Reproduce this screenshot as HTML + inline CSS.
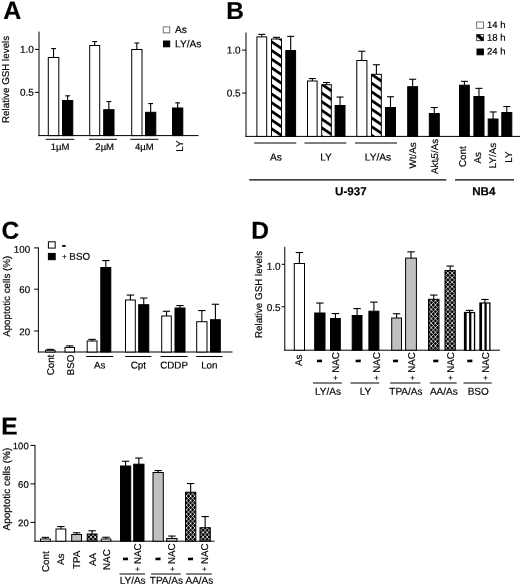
<!DOCTYPE html>
<html lang="en">
<head>
<meta charset="utf-8">
<title>Figure</title>
<style>
html,body{margin:0;padding:0;background:#fff;}
body{width:520px;height:586px;overflow:hidden;}
svg{display:block;}
svg text{font-family:"Liberation Sans",Arial,Helvetica,sans-serif;fill:#000;stroke:#000;stroke-width:0.18px;text-rendering:geometricPrecision;}
</style>
</head>
<body>
<svg width="520" height="586" viewBox="0 0 520 586">
<defs>
<pattern id="hatch" patternUnits="userSpaceOnUse" width="20" height="7.21" patternTransform="translate(271 39.7) rotate(34)">
<rect x="0" y="0" width="20" height="7.21" fill="#fff"/>
<rect x="0" y="0" width="20" height="2.8" fill="#000"/>
</pattern>
<pattern id="cross" patternUnits="userSpaceOnUse" x="3.85" y="0.10" width="4.15" height="4.55">
<rect x="0" y="0" width="4.15" height="4.55" fill="#000"/>
<path d="M0 0L4.15 4.55M0 4.55L4.15 0" stroke="#fff" stroke-width="0.75" fill="none"/>
</pattern>
</defs>
<rect x="0" y="0" width="520" height="586" fill="#fff"/>

<g id="panelA">
<text x="3.20" y="19.10" font-size="25" text-anchor="start" font-weight="bold" transform="rotate(0.05 3.20 19.10)">A</text>
<text x="9.50" y="79.40" font-size="9.8" text-anchor="middle" font-weight="normal" transform="rotate(-90 9.50 79.40)">Relative GSH levels</text>
<line x1="39.00" y1="31.60" x2="39.00" y2="136.10" stroke="#000" stroke-width="1.0"/>
<line x1="38.50" y1="135.60" x2="198.50" y2="135.60" stroke="#000" stroke-width="1.0"/>
<line x1="34.90" y1="49.40" x2="39.00" y2="49.40" stroke="#000" stroke-width="1.0"/>
<text x="33.90" y="52.80" font-size="10.0" text-anchor="end" font-weight="normal" transform="rotate(0.05 33.90 52.80)">1.0</text>
<line x1="34.90" y1="92.40" x2="39.00" y2="92.40" stroke="#000" stroke-width="1.0"/>
<text x="33.90" y="95.80" font-size="10.0" text-anchor="end" font-weight="normal" transform="rotate(0.05 33.90 95.80)">0.5</text>
<line x1="53.55" y1="48.55" x2="53.55" y2="58.00" stroke="#000" stroke-width="1.1"/>
<line x1="51.15" y1="48.55" x2="55.95" y2="48.55" stroke="#000" stroke-width="1.1"/>
<rect x="48.30" y="57.50" width="10.50" height="78.10" fill="#fff" stroke="#000" stroke-width="1.0"/>
<line x1="67.65" y1="95.85" x2="67.65" y2="101.00" stroke="#000" stroke-width="1.1"/>
<line x1="65.25" y1="95.85" x2="70.05" y2="95.85" stroke="#000" stroke-width="1.1"/>
<rect x="62.50" y="100.50" width="10.30" height="35.10" fill="#000" stroke="#000" stroke-width="1.0"/>
<line x1="94.70" y1="41.55" x2="94.70" y2="46.00" stroke="#000" stroke-width="1.1"/>
<line x1="92.30" y1="41.55" x2="97.10" y2="41.55" stroke="#000" stroke-width="1.1"/>
<rect x="89.70" y="45.50" width="10.00" height="90.10" fill="#fff" stroke="#000" stroke-width="1.0"/>
<line x1="108.85" y1="101.55" x2="108.85" y2="110.20" stroke="#000" stroke-width="1.1"/>
<line x1="106.45" y1="101.55" x2="111.25" y2="101.55" stroke="#000" stroke-width="1.1"/>
<rect x="103.70" y="109.70" width="10.30" height="25.90" fill="#000" stroke="#000" stroke-width="1.0"/>
<line x1="136.85" y1="43.05" x2="136.85" y2="50.00" stroke="#000" stroke-width="1.1"/>
<line x1="134.45" y1="43.05" x2="139.25" y2="43.05" stroke="#000" stroke-width="1.1"/>
<rect x="131.70" y="49.50" width="10.30" height="86.10" fill="#fff" stroke="#000" stroke-width="1.0"/>
<line x1="150.65" y1="103.55" x2="150.65" y2="112.80" stroke="#000" stroke-width="1.1"/>
<line x1="148.25" y1="103.55" x2="153.05" y2="103.55" stroke="#000" stroke-width="1.1"/>
<rect x="145.50" y="112.30" width="10.30" height="23.30" fill="#000" stroke="#000" stroke-width="1.0"/>
<line x1="177.65" y1="102.85" x2="177.65" y2="108.50" stroke="#000" stroke-width="1.1"/>
<line x1="175.25" y1="102.85" x2="180.05" y2="102.85" stroke="#000" stroke-width="1.1"/>
<rect x="172.50" y="108.00" width="10.30" height="27.60" fill="#000" stroke="#000" stroke-width="1.0"/>
<line x1="45.70" y1="139.30" x2="74.30" y2="139.30" stroke="#000" stroke-width="1.0"/>
<text x="60.00" y="150.00" font-size="9.5" text-anchor="middle" font-weight="normal" transform="rotate(0.05 60.00 150.00)">1µM</text>
<line x1="89.00" y1="139.30" x2="117.00" y2="139.30" stroke="#000" stroke-width="1.0"/>
<text x="104.70" y="150.00" font-size="9.5" text-anchor="middle" font-weight="normal" transform="rotate(0.05 104.70 150.00)">2µM</text>
<line x1="130.30" y1="139.30" x2="158.30" y2="139.30" stroke="#000" stroke-width="1.0"/>
<text x="144.30" y="150.00" font-size="9.5" text-anchor="middle" font-weight="normal" transform="rotate(0.05 144.30 150.00)">4µM</text>
<text x="182.93" y="146.20" font-size="9.8" text-anchor="middle" font-weight="normal" transform="rotate(-90 182.93 146.20)">LY</text>
<rect x="163.25" y="26.85" width="6.50" height="6.00" fill="#fff" stroke="#666" stroke-width="0.9"/>
<text x="175.00" y="33.00" font-size="10.2" text-anchor="start" font-weight="normal" transform="rotate(0.05 175.00 33.00)">As</text>
<rect x="163.50" y="41.00" width="6.20" height="5.80" fill="#000" stroke="#000" stroke-width="1.0"/>
<text x="175.00" y="47.30" font-size="10.2" text-anchor="start" font-weight="normal" transform="rotate(0.05 175.00 47.30)">LY/As</text>
</g>
<g id="panelB">
<text x="226.20" y="19.00" font-size="24.5" text-anchor="start" font-weight="bold" transform="rotate(0.05 226.20 19.00)">B</text>
<line x1="246.00" y1="32.50" x2="246.00" y2="136.90" stroke="#000" stroke-width="1.0"/>
<line x1="245.50" y1="136.40" x2="520.00" y2="136.40" stroke="#000" stroke-width="1.0"/>
<line x1="242.10" y1="50.10" x2="246.00" y2="50.10" stroke="#000" stroke-width="1.0"/>
<text x="240.70" y="53.50" font-size="10.0" text-anchor="end" font-weight="normal" transform="rotate(0.05 240.70 53.50)">1.0</text>
<line x1="242.10" y1="93.00" x2="246.00" y2="93.00" stroke="#000" stroke-width="1.0"/>
<text x="240.70" y="96.40" font-size="10.0" text-anchor="end" font-weight="normal" transform="rotate(0.05 240.70 96.40)">0.5</text>
<line x1="261.80" y1="34.35" x2="261.80" y2="37.40" stroke="#000" stroke-width="1.1"/>
<line x1="258.30" y1="34.35" x2="265.30" y2="34.35" stroke="#000" stroke-width="1.1"/>
<rect x="256.90" y="36.90" width="9.80" height="99.50" fill="#fff" stroke="#000" stroke-width="1.0"/>
<line x1="276.50" y1="37.35" x2="276.50" y2="39.50" stroke="#000" stroke-width="1.1"/>
<line x1="273.00" y1="37.35" x2="280.00" y2="37.35" stroke="#000" stroke-width="1.1"/>
<rect x="271.50" y="39.00" width="10.00" height="97.40" fill="url(#hatch)" stroke="#000" stroke-width="1.0"/>
<line x1="290.70" y1="36.35" x2="290.70" y2="51.00" stroke="#000" stroke-width="1.1"/>
<line x1="287.20" y1="36.35" x2="294.20" y2="36.35" stroke="#000" stroke-width="1.1"/>
<rect x="285.80" y="50.50" width="9.80" height="85.90" fill="#000" stroke="#000" stroke-width="1.0"/>
<line x1="312.30" y1="78.55" x2="312.30" y2="81.50" stroke="#000" stroke-width="1.1"/>
<line x1="308.80" y1="78.55" x2="315.80" y2="78.55" stroke="#000" stroke-width="1.1"/>
<rect x="307.50" y="81.00" width="9.60" height="55.40" fill="#fff" stroke="#000" stroke-width="1.0"/>
<line x1="326.50" y1="82.55" x2="326.50" y2="85.20" stroke="#000" stroke-width="1.1"/>
<line x1="323.00" y1="82.55" x2="330.00" y2="82.55" stroke="#000" stroke-width="1.1"/>
<rect x="321.70" y="84.70" width="9.60" height="51.70" fill="url(#hatch)" stroke="#000" stroke-width="1.0"/>
<line x1="340.05" y1="97.05" x2="340.05" y2="106.00" stroke="#000" stroke-width="1.1"/>
<line x1="336.55" y1="97.05" x2="343.55" y2="97.05" stroke="#000" stroke-width="1.1"/>
<rect x="335.10" y="105.50" width="9.90" height="30.90" fill="#000" stroke="#000" stroke-width="1.0"/>
<line x1="361.85" y1="51.25" x2="361.85" y2="61.00" stroke="#000" stroke-width="1.1"/>
<line x1="358.35" y1="51.25" x2="365.35" y2="51.25" stroke="#000" stroke-width="1.1"/>
<rect x="356.80" y="60.50" width="10.10" height="75.90" fill="#fff" stroke="#000" stroke-width="1.0"/>
<line x1="376.40" y1="64.75" x2="376.40" y2="74.80" stroke="#000" stroke-width="1.1"/>
<line x1="372.90" y1="64.75" x2="379.90" y2="64.75" stroke="#000" stroke-width="1.1"/>
<rect x="371.50" y="74.30" width="9.80" height="62.10" fill="url(#hatch)" stroke="#000" stroke-width="1.0"/>
<line x1="390.50" y1="96.75" x2="390.50" y2="108.00" stroke="#000" stroke-width="1.1"/>
<line x1="387.00" y1="96.75" x2="394.00" y2="96.75" stroke="#000" stroke-width="1.1"/>
<rect x="385.50" y="107.50" width="10.00" height="28.90" fill="#000" stroke="#000" stroke-width="1.0"/>
<line x1="412.65" y1="79.25" x2="412.65" y2="87.20" stroke="#000" stroke-width="1.1"/>
<line x1="409.15" y1="79.25" x2="416.15" y2="79.25" stroke="#000" stroke-width="1.1"/>
<rect x="407.70" y="86.70" width="9.90" height="49.70" fill="#000" stroke="#000" stroke-width="1.0"/>
<line x1="434.30" y1="107.55" x2="434.30" y2="114.00" stroke="#000" stroke-width="1.1"/>
<line x1="430.80" y1="107.55" x2="437.80" y2="107.55" stroke="#000" stroke-width="1.1"/>
<rect x="429.30" y="113.50" width="10.00" height="22.90" fill="#000" stroke="#000" stroke-width="1.0"/>
<line x1="464.40" y1="81.35" x2="464.40" y2="85.70" stroke="#000" stroke-width="1.1"/>
<line x1="460.90" y1="81.35" x2="467.90" y2="81.35" stroke="#000" stroke-width="1.1"/>
<rect x="459.50" y="85.20" width="9.80" height="51.20" fill="#000" stroke="#000" stroke-width="1.0"/>
<line x1="478.95" y1="88.35" x2="478.95" y2="97.00" stroke="#000" stroke-width="1.1"/>
<line x1="475.45" y1="88.35" x2="482.45" y2="88.35" stroke="#000" stroke-width="1.1"/>
<rect x="473.90" y="96.50" width="10.10" height="39.90" fill="#000" stroke="#000" stroke-width="1.0"/>
<line x1="493.10" y1="111.95" x2="493.10" y2="119.50" stroke="#000" stroke-width="1.1"/>
<line x1="489.60" y1="111.95" x2="496.60" y2="111.95" stroke="#000" stroke-width="1.1"/>
<rect x="488.20" y="119.00" width="9.80" height="17.40" fill="#000" stroke="#000" stroke-width="1.0"/>
<line x1="506.80" y1="106.55" x2="506.80" y2="113.00" stroke="#000" stroke-width="1.1"/>
<line x1="503.30" y1="106.55" x2="510.30" y2="106.55" stroke="#000" stroke-width="1.1"/>
<rect x="501.80" y="112.50" width="10.00" height="23.90" fill="#000" stroke="#000" stroke-width="1.0"/>
<line x1="254.20" y1="143.00" x2="296.30" y2="143.00" stroke="#000" stroke-width="1.2"/>
<text x="275.85" y="160.40" font-size="10.2" text-anchor="middle" font-weight="normal" transform="rotate(0.05 275.85 160.40)">As</text>
<line x1="304.50" y1="143.00" x2="346.30" y2="143.00" stroke="#000" stroke-width="1.2"/>
<text x="326.00" y="160.40" font-size="10.2" text-anchor="middle" font-weight="normal" transform="rotate(0.05 326.00 160.40)">LY</text>
<line x1="355.00" y1="143.00" x2="397.00" y2="143.00" stroke="#000" stroke-width="1.2"/>
<text x="378.00" y="160.40" font-size="10.2" text-anchor="middle" font-weight="normal" transform="rotate(0.05 378.00 160.40)">LY/As</text>
<text x="415.53" y="155.40" font-size="9.8" text-anchor="middle" font-weight="normal" transform="rotate(-90 415.53 155.40)">Wt/As</text>
<text x="437.73" y="156.40" font-size="9.8" text-anchor="middle" font-weight="normal" transform="rotate(-90 437.73 156.40)">Akt<tspan font-size="6" dy="1.5">i</tspan><tspan dy="-1.5">5/As</tspan></text>
<text x="466.33" y="156.60" font-size="9.8" text-anchor="middle" font-weight="normal" transform="rotate(-90 466.33 156.60)">Cont</text>
<text x="481.33" y="157.80" font-size="9.8" text-anchor="middle" font-weight="normal" transform="rotate(-90 481.33 157.80)">As</text>
<text x="495.53" y="155.50" font-size="9.8" text-anchor="middle" font-weight="normal" transform="rotate(-90 495.53 155.50)">LY/As</text>
<text x="512.13" y="157.20" font-size="9.8" text-anchor="middle" font-weight="normal" transform="rotate(-90 512.13 157.20)">LY</text>
<line x1="249.20" y1="179.80" x2="446.40" y2="179.80" stroke="#000" stroke-width="1.2"/>
<line x1="455.00" y1="179.80" x2="514.00" y2="179.80" stroke="#000" stroke-width="1.2"/>
<text x="350.90" y="195.30" font-size="11.6" text-anchor="middle" font-weight="bold" transform="rotate(0.05 350.90 195.30)">U-937</text>
<text x="483.80" y="195.30" font-size="11.6" text-anchor="middle" font-weight="bold" transform="rotate(0.05 483.80 195.30)">NB4</text>
<rect x="476.65" y="21.95" width="6.80" height="6.30" fill="#fff" stroke="#666" stroke-width="0.9"/>
<text x="487.00" y="28.00" font-size="9.5" text-anchor="start" font-weight="normal" transform="rotate(0.05 487.00 28.00)">14 h</text>
<rect x="476.65" y="34.45" width="6.80" height="6.20" fill="#fff" stroke="#333" stroke-width="0.9"/>
<path d="M476.6 34.4 L479.6 34.4 L483.5 38.0 L483.5 40.7 L481.3 40.7 L476.6 36.4 Z" fill="#000"/>
<text x="487.00" y="40.80" font-size="9.5" text-anchor="start" font-weight="normal" transform="rotate(0.05 487.00 40.80)">18 h</text>
<rect x="477.00" y="49.00" width="6.40" height="5.80" fill="#000" stroke="#000" stroke-width="1.0"/>
<text x="487.00" y="54.50" font-size="9.5" text-anchor="start" font-weight="normal" transform="rotate(0.05 487.00 54.50)">24 h</text>
</g>
<g id="panelC">
<text x="1.50" y="238.70" font-size="24.5" text-anchor="start" font-weight="bold" transform="rotate(0.05 1.50 238.70)">C</text>
<text x="9.70" y="296.30" font-size="9.8" text-anchor="middle" font-weight="normal" transform="rotate(-90 9.70 296.30)">Apoptotic cells (%)</text>
<line x1="38.40" y1="247.40" x2="38.40" y2="352.50" stroke="#000" stroke-width="1.0"/>
<line x1="37.90" y1="352.00" x2="232.50" y2="352.00" stroke="#000" stroke-width="1.0"/>
<line x1="34.10" y1="247.90" x2="38.40" y2="247.90" stroke="#000" stroke-width="1.0"/>
<text x="30.10" y="252.80" font-size="9.8" text-anchor="end" font-weight="normal" transform="rotate(0.05 30.10 252.80)">100</text>
<line x1="34.10" y1="289.20" x2="38.40" y2="289.20" stroke="#000" stroke-width="1.0"/>
<text x="30.10" y="293.10" font-size="9.8" text-anchor="end" font-weight="normal" transform="rotate(0.05 30.10 293.10)">60</text>
<line x1="34.10" y1="331.00" x2="38.40" y2="331.00" stroke="#000" stroke-width="1.0"/>
<text x="30.10" y="335.30" font-size="9.8" text-anchor="end" font-weight="normal" transform="rotate(0.05 30.10 335.30)">20</text>
<line x1="50.30" y1="349.35" x2="50.30" y2="350.80" stroke="#000" stroke-width="1.1"/>
<line x1="46.60" y1="349.35" x2="54.00" y2="349.35" stroke="#000" stroke-width="1.1"/>
<rect x="45.50" y="350.30" width="9.60" height="1.70" fill="#fff" stroke="#000" stroke-width="1.0"/>
<line x1="69.75" y1="345.85" x2="69.75" y2="348.00" stroke="#000" stroke-width="1.1"/>
<line x1="66.05" y1="345.85" x2="73.45" y2="345.85" stroke="#000" stroke-width="1.1"/>
<rect x="65.00" y="347.50" width="9.50" height="4.50" fill="#fff" stroke="#000" stroke-width="1.0"/>
<line x1="92.10" y1="339.35" x2="92.10" y2="341.50" stroke="#000" stroke-width="1.1"/>
<line x1="88.40" y1="339.35" x2="95.80" y2="339.35" stroke="#000" stroke-width="1.1"/>
<rect x="87.20" y="341.00" width="9.80" height="11.00" fill="#fff" stroke="#000" stroke-width="1.0"/>
<line x1="105.80" y1="260.55" x2="105.80" y2="268.00" stroke="#000" stroke-width="1.1"/>
<line x1="102.10" y1="260.55" x2="109.50" y2="260.55" stroke="#000" stroke-width="1.1"/>
<rect x="100.80" y="267.50" width="10.00" height="84.50" fill="#000" stroke="#000" stroke-width="1.0"/>
<line x1="130.40" y1="295.05" x2="130.40" y2="300.50" stroke="#000" stroke-width="1.1"/>
<line x1="126.70" y1="295.05" x2="134.10" y2="295.05" stroke="#000" stroke-width="1.1"/>
<rect x="125.50" y="300.00" width="9.80" height="52.00" fill="#fff" stroke="#000" stroke-width="1.0"/>
<line x1="143.75" y1="298.05" x2="143.75" y2="305.20" stroke="#000" stroke-width="1.1"/>
<line x1="140.05" y1="298.05" x2="147.45" y2="298.05" stroke="#000" stroke-width="1.1"/>
<rect x="138.70" y="304.70" width="10.10" height="47.30" fill="#000" stroke="#000" stroke-width="1.0"/>
<line x1="166.50" y1="311.25" x2="166.50" y2="316.50" stroke="#000" stroke-width="1.1"/>
<line x1="162.80" y1="311.25" x2="170.20" y2="311.25" stroke="#000" stroke-width="1.1"/>
<rect x="161.70" y="316.00" width="9.60" height="36.00" fill="#fff" stroke="#000" stroke-width="1.0"/>
<line x1="180.00" y1="305.55" x2="180.00" y2="308.50" stroke="#000" stroke-width="1.1"/>
<line x1="176.30" y1="305.55" x2="183.70" y2="305.55" stroke="#000" stroke-width="1.1"/>
<rect x="175.00" y="308.00" width="10.00" height="44.00" fill="#000" stroke="#000" stroke-width="1.0"/>
<line x1="201.85" y1="310.55" x2="201.85" y2="322.20" stroke="#000" stroke-width="1.1"/>
<line x1="198.15" y1="310.55" x2="205.55" y2="310.55" stroke="#000" stroke-width="1.1"/>
<rect x="196.70" y="321.70" width="10.30" height="30.30" fill="#fff" stroke="#000" stroke-width="1.0"/>
<line x1="215.40" y1="304.25" x2="215.40" y2="320.20" stroke="#000" stroke-width="1.1"/>
<line x1="211.70" y1="304.25" x2="219.10" y2="304.25" stroke="#000" stroke-width="1.1"/>
<rect x="210.50" y="319.70" width="9.80" height="32.30" fill="#000" stroke="#000" stroke-width="1.0"/>
<text x="53.53" y="365.00" font-size="9.8" text-anchor="middle" font-weight="normal" transform="rotate(-90 53.53 365.00)">Cont</text>
<text x="74.13" y="365.00" font-size="9.8" text-anchor="middle" font-weight="normal" transform="rotate(-90 74.13 365.00)">BSO</text>
<line x1="86.20" y1="356.50" x2="113.30" y2="356.50" stroke="#000" stroke-width="1.0"/>
<text x="99.75" y="368.60" font-size="9.8" text-anchor="middle" font-weight="normal" transform="rotate(0.05 99.75 368.60)">As</text>
<line x1="125.20" y1="356.50" x2="151.30" y2="356.50" stroke="#000" stroke-width="1.0"/>
<text x="138.25" y="368.60" font-size="9.8" text-anchor="middle" font-weight="normal" transform="rotate(0.05 138.25 368.60)">Cpt</text>
<line x1="160.70" y1="356.50" x2="187.50" y2="356.50" stroke="#000" stroke-width="1.0"/>
<text x="174.10" y="368.60" font-size="9.8" text-anchor="middle" font-weight="normal" transform="rotate(0.05 174.10 368.60)">CDDP</text>
<line x1="196.20" y1="356.50" x2="222.50" y2="356.50" stroke="#000" stroke-width="1.0"/>
<text x="209.35" y="368.60" font-size="9.8" text-anchor="middle" font-weight="normal" transform="rotate(0.05 209.35 368.60)">Lon</text>
<rect x="48.40" y="241.80" width="6.80" height="6.30" fill="#fff" stroke="#000" stroke-width="1.0"/>
<text x="63.80" y="249.20" font-size="13" text-anchor="middle" font-weight="bold" transform="rotate(0.05 63.80 249.20)">-</text>
<rect x="48.40" y="253.40" width="6.80" height="6.30" fill="#000" stroke="#000" stroke-width="1.0"/>
<text x="62.20" y="259.80" font-size="9.8" text-anchor="start" font-weight="normal" transform="rotate(0.05 62.20 259.80)"><tspan font-size="7.6" dy="-0.6">+</tspan><tspan dy="0.6"> </tspan>BSO</text>
</g>
<g id="panelD">
<text x="251.20" y="238.70" font-size="24.5" text-anchor="start" font-weight="bold" transform="rotate(0.05 251.20 238.70)">D</text>
<text x="262.40" y="294.50" font-size="9.8" text-anchor="middle" font-weight="normal" transform="rotate(-90 262.40 294.50)">Relative GSH levels</text>
<line x1="284.80" y1="246.80" x2="284.80" y2="350.70" stroke="#000" stroke-width="1.0"/>
<line x1="284.30" y1="350.20" x2="500.00" y2="350.20" stroke="#000" stroke-width="1.0"/>
<line x1="281.60" y1="264.30" x2="284.80" y2="264.30" stroke="#000" stroke-width="1.0"/>
<text x="280.60" y="269.70" font-size="10.0" text-anchor="end" font-weight="normal" transform="rotate(0.05 280.60 269.70)">1.0</text>
<line x1="281.60" y1="306.80" x2="284.80" y2="306.80" stroke="#000" stroke-width="1.0"/>
<text x="280.60" y="311.10" font-size="10.0" text-anchor="end" font-weight="normal" transform="rotate(0.05 280.60 311.10)">0.5</text>
<line x1="299.40" y1="252.55" x2="299.40" y2="264.00" stroke="#000" stroke-width="1.1"/>
<line x1="295.70" y1="252.55" x2="303.10" y2="252.55" stroke="#000" stroke-width="1.1"/>
<rect x="294.30" y="263.50" width="10.20" height="86.70" fill="#fff" stroke="#000" stroke-width="1.0"/>
<line x1="319.85" y1="303.05" x2="319.85" y2="313.50" stroke="#000" stroke-width="1.1"/>
<line x1="316.15" y1="303.05" x2="323.55" y2="303.05" stroke="#000" stroke-width="1.1"/>
<rect x="314.70" y="313.00" width="10.30" height="37.20" fill="#000" stroke="#000" stroke-width="1.0"/>
<line x1="335.40" y1="313.55" x2="335.40" y2="319.00" stroke="#000" stroke-width="1.1"/>
<line x1="331.70" y1="313.55" x2="339.10" y2="313.55" stroke="#000" stroke-width="1.1"/>
<rect x="330.50" y="318.50" width="9.80" height="31.70" fill="#000" stroke="#000" stroke-width="1.0"/>
<line x1="357.10" y1="308.55" x2="357.10" y2="316.00" stroke="#000" stroke-width="1.1"/>
<line x1="353.40" y1="308.55" x2="360.80" y2="308.55" stroke="#000" stroke-width="1.1"/>
<rect x="352.20" y="315.50" width="9.80" height="34.70" fill="#000" stroke="#000" stroke-width="1.0"/>
<line x1="373.90" y1="302.15" x2="373.90" y2="311.70" stroke="#000" stroke-width="1.1"/>
<line x1="370.20" y1="302.15" x2="377.60" y2="302.15" stroke="#000" stroke-width="1.1"/>
<rect x="368.90" y="311.20" width="10.00" height="39.00" fill="#000" stroke="#000" stroke-width="1.0"/>
<line x1="396.60" y1="313.75" x2="396.60" y2="318.50" stroke="#000" stroke-width="1.1"/>
<line x1="392.90" y1="313.75" x2="400.30" y2="313.75" stroke="#000" stroke-width="1.1"/>
<rect x="391.70" y="318.00" width="9.80" height="32.20" fill="#c0c0c0" stroke="#000" stroke-width="1.0"/>
<line x1="411.00" y1="251.85" x2="411.00" y2="258.60" stroke="#000" stroke-width="1.1"/>
<line x1="407.30" y1="251.85" x2="414.70" y2="251.85" stroke="#000" stroke-width="1.1"/>
<rect x="405.60" y="258.10" width="10.80" height="92.10" fill="#c0c0c0" stroke="#000" stroke-width="1.0"/>
<line x1="433.75" y1="295.05" x2="433.75" y2="299.80" stroke="#000" stroke-width="1.1"/>
<line x1="430.05" y1="295.05" x2="437.45" y2="295.05" stroke="#000" stroke-width="1.1"/>
<rect x="428.50" y="299.30" width="10.50" height="50.90" fill="url(#cross)" stroke="#000" stroke-width="1.0"/>
<line x1="450.15" y1="266.05" x2="450.15" y2="271.00" stroke="#000" stroke-width="1.1"/>
<line x1="446.45" y1="266.05" x2="453.85" y2="266.05" stroke="#000" stroke-width="1.1"/>
<rect x="445.00" y="270.50" width="10.30" height="79.70" fill="url(#cross)" stroke="#000" stroke-width="1.0"/>
<line x1="469.55" y1="310.35" x2="469.55" y2="312.90" stroke="#000" stroke-width="1.1"/>
<line x1="465.85" y1="310.35" x2="473.25" y2="310.35" stroke="#000" stroke-width="1.1"/>
<rect x="463.90" y="311.90" width="11.30" height="38.80" fill="#000"/>
<rect x="466.67" y="313.10" width="2.42" height="36.80" fill="#fff"/>
<rect x="471.37" y="313.10" width="2.52" height="36.80" fill="#fff"/>
<line x1="484.90" y1="299.45" x2="484.90" y2="303.40" stroke="#000" stroke-width="1.1"/>
<line x1="481.20" y1="299.45" x2="488.60" y2="299.45" stroke="#000" stroke-width="1.1"/>
<rect x="479.30" y="302.40" width="11.20" height="48.30" fill="#000"/>
<rect x="482.05" y="303.60" width="2.40" height="46.30" fill="#fff"/>
<rect x="486.70" y="303.60" width="2.50" height="46.30" fill="#fff"/>
<text x="302.33" y="360.40" font-size="9.8" text-anchor="middle" font-weight="normal" transform="rotate(-90 302.33 360.40)">As</text>
<text x="319.60" y="366.00" font-size="19.5" text-anchor="middle" font-weight="bold" transform="rotate(0.05 319.60 366.00)">-</text>
<text x="338.93" y="380.00" font-size="9.8" text-anchor="start" font-weight="normal" transform="rotate(-90 338.93 380.00)"><tspan font-size="7.6" dy="-0.6">+</tspan><tspan dy="0.6"> </tspan>NAC</text>
<text x="358.20" y="366.00" font-size="19.5" text-anchor="middle" font-weight="bold" transform="rotate(0.05 358.20 366.00)">-</text>
<text x="379.73" y="380.00" font-size="9.8" text-anchor="start" font-weight="normal" transform="rotate(-90 379.73 380.00)"><tspan font-size="7.6" dy="-0.6">+</tspan><tspan dy="0.6"> </tspan>NAC</text>
<text x="395.60" y="366.00" font-size="19.5" text-anchor="middle" font-weight="bold" transform="rotate(0.05 395.60 366.00)">-</text>
<text x="415.33" y="380.00" font-size="9.8" text-anchor="start" font-weight="normal" transform="rotate(-90 415.33 380.00)"><tspan font-size="7.6" dy="-0.6">+</tspan><tspan dy="0.6"> </tspan>NAC</text>
<text x="435.70" y="366.00" font-size="19.5" text-anchor="middle" font-weight="bold" transform="rotate(0.05 435.70 366.00)">-</text>
<text x="454.03" y="380.00" font-size="9.8" text-anchor="start" font-weight="normal" transform="rotate(-90 454.03 380.00)"><tspan font-size="7.6" dy="-0.6">+</tspan><tspan dy="0.6"> </tspan>NAC</text>
<text x="469.70" y="366.00" font-size="19.5" text-anchor="middle" font-weight="bold" transform="rotate(0.05 469.70 366.00)">-</text>
<text x="488.53" y="380.00" font-size="9.8" text-anchor="start" font-weight="normal" transform="rotate(-90 488.53 380.00)"><tspan font-size="7.6" dy="-0.6">+</tspan><tspan dy="0.6"> </tspan>NAC</text>
<line x1="313.00" y1="383.00" x2="341.80" y2="383.00" stroke="#000" stroke-width="1.0"/>
<text x="328.00" y="394.70" font-size="10.0" text-anchor="middle" font-weight="normal" transform="rotate(0.05 328.00 394.70)">LY/As</text>
<line x1="350.50" y1="383.00" x2="379.30" y2="383.00" stroke="#000" stroke-width="1.0"/>
<text x="365.50" y="394.70" font-size="10.0" text-anchor="middle" font-weight="normal" transform="rotate(0.05 365.50 394.70)">LY</text>
<line x1="390.20" y1="383.00" x2="420.40" y2="383.00" stroke="#000" stroke-width="1.0"/>
<text x="405.90" y="394.70" font-size="10.0" text-anchor="middle" font-weight="normal" transform="rotate(0.05 405.90 394.70)">TPA/As</text>
<line x1="429.80" y1="383.00" x2="456.70" y2="383.00" stroke="#000" stroke-width="1.0"/>
<text x="443.85" y="394.70" font-size="10.0" text-anchor="middle" font-weight="normal" transform="rotate(0.05 443.85 394.70)">AA/As</text>
<line x1="463.50" y1="383.00" x2="491.70" y2="383.00" stroke="#000" stroke-width="1.0"/>
<text x="478.20" y="394.70" font-size="10.0" text-anchor="middle" font-weight="normal" transform="rotate(0.05 478.20 394.70)">BSO</text>
</g>
<g id="panelE">
<text x="1.20" y="434.50" font-size="24.5" text-anchor="start" font-weight="bold" transform="rotate(0.05 1.20 434.50)">E</text>
<text x="9.60" y="489.10" font-size="10.0" text-anchor="middle" font-weight="normal" transform="rotate(-90 9.60 489.10)">Apoptotic cells (%)</text>
<line x1="35.00" y1="444.90" x2="35.00" y2="541.70" stroke="#000" stroke-width="1.0"/>
<line x1="34.50" y1="541.20" x2="214.50" y2="541.20" stroke="#000" stroke-width="1.0"/>
<line x1="30.40" y1="445.40" x2="35.00" y2="445.40" stroke="#000" stroke-width="1.0"/>
<text x="28.70" y="449.30" font-size="9.5" text-anchor="end" font-weight="normal" transform="rotate(0.05 28.70 449.30)">100</text>
<line x1="30.40" y1="483.90" x2="35.00" y2="483.90" stroke="#000" stroke-width="1.0"/>
<text x="28.70" y="487.80" font-size="9.5" text-anchor="end" font-weight="normal" transform="rotate(0.05 28.70 487.80)">60</text>
<line x1="30.40" y1="522.40" x2="35.00" y2="522.40" stroke="#000" stroke-width="1.0"/>
<text x="28.70" y="526.30" font-size="9.5" text-anchor="end" font-weight="normal" transform="rotate(0.05 28.70 526.30)">20</text>
<line x1="45.40" y1="537.35" x2="45.40" y2="539.50" stroke="#000" stroke-width="1.1"/>
<line x1="41.70" y1="537.35" x2="49.10" y2="537.35" stroke="#000" stroke-width="1.1"/>
<rect x="40.50" y="539.00" width="9.80" height="2.20" fill="#fff" stroke="#000" stroke-width="1.0"/>
<line x1="60.90" y1="526.55" x2="60.90" y2="529.50" stroke="#000" stroke-width="1.1"/>
<line x1="57.20" y1="526.55" x2="64.60" y2="526.55" stroke="#000" stroke-width="1.1"/>
<rect x="56.00" y="529.00" width="9.80" height="12.20" fill="#fff" stroke="#000" stroke-width="1.0"/>
<line x1="76.60" y1="532.75" x2="76.60" y2="535.00" stroke="#000" stroke-width="1.1"/>
<line x1="72.90" y1="532.75" x2="80.30" y2="532.75" stroke="#000" stroke-width="1.1"/>
<rect x="71.70" y="534.50" width="9.80" height="6.70" fill="#c0c0c0" stroke="#000" stroke-width="1.0"/>
<line x1="92.10" y1="530.75" x2="92.10" y2="534.50" stroke="#000" stroke-width="1.1"/>
<line x1="88.40" y1="530.75" x2="95.80" y2="530.75" stroke="#000" stroke-width="1.1"/>
<rect x="87.20" y="534.00" width="9.80" height="7.20" fill="url(#cross)" stroke="#000" stroke-width="1.0"/>
<line x1="106.00" y1="537.25" x2="106.00" y2="539.50" stroke="#000" stroke-width="1.1"/>
<line x1="102.30" y1="537.25" x2="109.70" y2="537.25" stroke="#000" stroke-width="1.1"/>
<rect x="101.20" y="539.00" width="9.60" height="2.20" fill="#fff" stroke="#000" stroke-width="1.0"/>
<line x1="125.60" y1="461.25" x2="125.60" y2="466.50" stroke="#000" stroke-width="1.1"/>
<line x1="121.90" y1="461.25" x2="129.30" y2="461.25" stroke="#000" stroke-width="1.1"/>
<rect x="120.50" y="466.00" width="10.20" height="75.20" fill="#000" stroke="#000" stroke-width="1.0"/>
<line x1="138.85" y1="458.05" x2="138.85" y2="464.70" stroke="#000" stroke-width="1.1"/>
<line x1="135.15" y1="458.05" x2="142.55" y2="458.05" stroke="#000" stroke-width="1.1"/>
<rect x="133.70" y="464.20" width="10.30" height="77.00" fill="#000" stroke="#000" stroke-width="1.0"/>
<line x1="158.15" y1="470.55" x2="158.15" y2="473.00" stroke="#000" stroke-width="1.1"/>
<line x1="154.45" y1="470.55" x2="161.85" y2="470.55" stroke="#000" stroke-width="1.1"/>
<rect x="153.00" y="472.50" width="10.30" height="68.70" fill="#c0c0c0" stroke="#000" stroke-width="1.0"/>
<line x1="171.85" y1="536.05" x2="171.85" y2="539.00" stroke="#000" stroke-width="1.1"/>
<line x1="168.15" y1="536.05" x2="175.55" y2="536.05" stroke="#000" stroke-width="1.1"/>
<rect x="166.70" y="538.50" width="10.30" height="2.70" fill="#c0c0c0" stroke="#000" stroke-width="1.0"/>
<line x1="190.65" y1="483.55" x2="190.65" y2="492.70" stroke="#000" stroke-width="1.1"/>
<line x1="186.95" y1="483.55" x2="194.35" y2="483.55" stroke="#000" stroke-width="1.1"/>
<rect x="185.50" y="492.20" width="10.30" height="49.00" fill="url(#cross)" stroke="#000" stroke-width="1.0"/>
<line x1="205.15" y1="516.55" x2="205.15" y2="528.20" stroke="#000" stroke-width="1.1"/>
<line x1="201.45" y1="516.55" x2="208.85" y2="516.55" stroke="#000" stroke-width="1.1"/>
<rect x="200.00" y="527.70" width="10.30" height="13.50" fill="url(#cross)" stroke="#000" stroke-width="1.0"/>
<text x="49.33" y="561.60" font-size="9.8" text-anchor="middle" font-weight="normal" transform="rotate(-90 49.33 561.60)">Cont</text>
<text x="64.33" y="559.40" font-size="9.8" text-anchor="middle" font-weight="normal" transform="rotate(-90 64.33 559.40)">As</text>
<text x="80.13" y="559.90" font-size="9.8" text-anchor="middle" font-weight="normal" transform="rotate(-90 80.13 559.90)">TPA</text>
<text x="95.53" y="559.40" font-size="9.8" text-anchor="middle" font-weight="normal" transform="rotate(-90 95.53 559.40)">AA</text>
<text x="109.93" y="559.60" font-size="9.8" text-anchor="middle" font-weight="normal" transform="rotate(-90 109.93 559.60)">NAC</text>
<text x="125.50" y="564.00" font-size="19.5" text-anchor="middle" font-weight="bold" transform="rotate(0.05 125.50 564.00)">-</text>
<text x="141.03" y="571.20" font-size="9.8" text-anchor="start" font-weight="normal" transform="rotate(-90 141.03 571.20)"><tspan font-size="7.6" dy="-0.6">+</tspan><tspan dy="0.6"> </tspan>NAC</text>
<text x="158.00" y="564.00" font-size="19.5" text-anchor="middle" font-weight="bold" transform="rotate(0.05 158.00 564.00)">-</text>
<text x="175.33" y="571.20" font-size="9.8" text-anchor="start" font-weight="normal" transform="rotate(-90 175.33 571.20)"><tspan font-size="7.6" dy="-0.6">+</tspan><tspan dy="0.6"> </tspan>NAC</text>
<text x="190.50" y="564.00" font-size="19.5" text-anchor="middle" font-weight="bold" transform="rotate(0.05 190.50 564.00)">-</text>
<text x="208.03" y="571.20" font-size="9.8" text-anchor="start" font-weight="normal" transform="rotate(-90 208.03 571.20)"><tspan font-size="7.6" dy="-0.6">+</tspan><tspan dy="0.6"> </tspan>NAC</text>
<line x1="119.50" y1="574.00" x2="145.00" y2="574.00" stroke="#000" stroke-width="1.0"/>
<text x="132.65" y="583.80" font-size="10.0" text-anchor="middle" font-weight="normal" transform="rotate(0.05 132.65 583.80)">LY/As</text>
<line x1="151.20" y1="574.00" x2="180.80" y2="574.00" stroke="#000" stroke-width="1.0"/>
<text x="166.40" y="583.80" font-size="10.0" text-anchor="middle" font-weight="normal" transform="rotate(0.05 166.40 583.80)">TPA/As</text>
<line x1="186.20" y1="574.00" x2="211.80" y2="574.00" stroke="#000" stroke-width="1.0"/>
<text x="199.40" y="583.80" font-size="10.0" text-anchor="middle" font-weight="normal" transform="rotate(0.05 199.40 583.80)">AA/As</text>
</g>
</svg>
</body>
</html>
